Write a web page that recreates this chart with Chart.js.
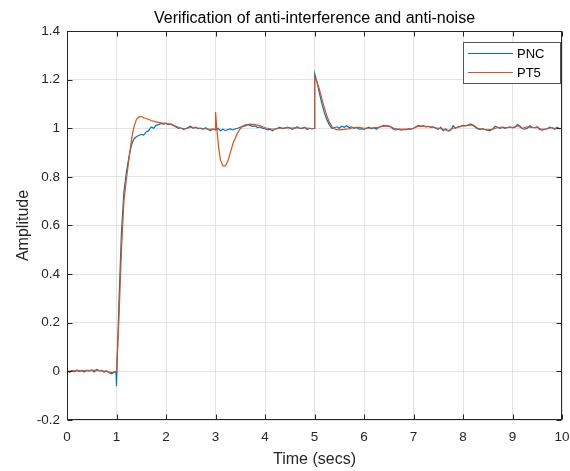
<!DOCTYPE html>
<html><head><meta charset="utf-8">
<script src="https://cdn.jsdelivr.net/npm/chart.js@4/dist/chart.umd.min.js"></script>
<style>html,body{margin:0;padding:0;background:#fff}canvas{display:block}</style>
</head><body>
<canvas id="c" width="570" height="471"></canvas>
<script>
const chartTitle = 'Verification of anti-interference and anti-noise';
const xLabel = 'Time (secs)';
const yLabel = 'Amplitude';
const xTicks = [0,1,2,3,4,5,6,7,8,9,10];
const yTicks = [-0.2,0,0.2,0.4,0.6,0.8,1,1.2,1.4];
const seriesNames = ['PNC','PT5'];

const pncTime = [0,0.05,0.1,0.15,0.2,0.25,0.3,0.35,0.4,0.45,0.5,0.55,0.6,0.65,0.7,0.75,0.8,0.85,0.9,0.95,0.99,1,
1.05,1.1,1.15,1.2,1.25,1.3,1.35,1.4,1.45,1.5,1.55,1.6,1.65,1.7,1.75,1.8,1.85,1.9,1.95,2,
2.05,2.1,2.15,2.2,2.25,2.3,2.35,2.4,2.45,2.5,2.55,2.6,2.65,2.7,2.75,2.8,2.85,2.9,2.95,3,
3.05,3.1,3.15,3.2,3.25,3.3,3.35,3.4,3.45,3.5,3.55,3.6,3.65,3.7,3.75,3.8,3.85,3.9,3.95,4,
4.05,4.1,4.15,4.2,4.25,4.3,4.35,4.4,4.45,4.5,4.55,4.6,4.65,4.7,4.75,4.8,4.85,4.9,4.95,5,
5.005,
5.05,5.1,5.15,5.2,5.25,5.3,5.35,5.4,5.45,5.5,5.55,5.6,5.65,5.7,5.75,5.8,5.85,5.9,5.95,6,
6.05,6.1,6.15,6.2,6.25,6.3,6.35,6.4,6.45,6.5,6.55,6.6,6.65,6.7,6.75,6.8,6.85,6.9,6.95,7,
7.05,7.1,7.15,7.2,7.25,7.3,7.35,7.4,7.45,7.5,7.55,7.6,7.65,7.7,7.75,7.8,7.85,7.9,7.95,8,
8.05,8.1,8.15,8.2,8.25,8.3,8.35,8.4,8.45,8.5,8.55,8.6,8.65,8.7,8.75,8.8,8.85,8.9,8.95,9,
9.05,9.1,9.15,9.2,9.25,9.3,9.35,9.4,9.45,9.5,9.55,9.6,9.65,9.7,9.75,9.8,9.85,9.9,9.95,10];

const pncValues = [0.002,-0.004,0.003,-0.002,0.006,0.000,0.004,-0.003,0.005,0.001,0.006,-0.002,0.008,0.002,0.004,-0.004,0.003,-0.006,-0.010,-0.004,-0.002,-0.060,
0.29,0.57,0.74,0.82,0.88,0.93,0.955,0.965,0.97,0.975,0.972,0.985,0.99,1.005,1.0,1.012,1.015,1.02,1.017,1.02,
1.015,1.018,1.012,1.005,1.0,1.002,0.995,0.998,1.004,1.008,1.0,1.004,0.998,1.0,0.996,1.002,0.995,0.99,0.997,0.993,
1.0,0.99,0.996,0.99,0.995,0.997,0.993,0.998,1.0,1.004,1.008,1.01,1.015,1.012,1.008,1.01,1.003,1.005,1.0,0.998,
0.993,0.996,0.99,0.997,1.0,1.004,0.998,1.0,1.005,1.002,0.996,1.0,1.006,1.0,0.998,1.004,0.995,1.0,0.997,1.0,
1.224,
1.19,1.145,1.1,1.063,1.035,1.014,1.0,1.002,1.006,1.0,1.008,1.004,1.01,1.002,1.006,1.0,1.003,0.996,0.998,0.995,
1.0,1.004,0.998,1.002,0.996,1.004,1.008,1.012,1.01,1.008,1.004,0.995,0.993,0.996,0.992,0.995,0.994,0.997,0.996,1.0,
1.006,1.012,1.008,1.01,1.006,1.008,1.004,1.006,1.0,0.996,1.004,0.99,0.998,0.988,0.992,1.01,1.0,1.006,1.008,1.012,
1.01,1.013,1.018,1.012,1.004,0.997,0.995,0.998,0.994,0.992,0.99,0.997,1.008,1.004,1.0,1.005,1.0,1.003,1.006,1.002,
1.004,1.015,1.008,0.998,0.996,1.0,1.01,1.004,1.002,1.006,0.995,0.992,0.995,0.998,1.005,1.002,0.996,1.004,0.998,1.0];

const pt5Time = [0,0.1,0.2,0.3,0.4,0.5,0.6,0.7,0.8,0.9,1,
1.05,1.1,1.15,1.2,1.25,1.3,1.35,1.4,1.45,1.5,1.55,1.6,1.7,1.8,1.9,2,
2.1,2.2,2.3,2.4,2.5,2.6,2.7,2.8,2.9,3,
3.001,3.03,3.07,3.1,3.15,3.2,3.25,3.3,3.35,3.4,3.45,3.5,3.55,3.6,3.7,3.8,3.9,4,
4.1,4.2,4.3,4.4,4.5,4.6,4.7,4.8,4.9,5,
5.001,5.05,5.1,5.15,5.2,5.25,5.3,5.35,5.4,5.45,5.5,5.6,5.7,5.8,5.9,6,
6.1,6.2,6.3,6.4,6.5,6.6,6.7,6.8,6.9,7,
7.1,7.2,7.3,7.4,7.5,7.6,7.7,7.8,7.9,8,
8.1,8.2,8.3,8.4,8.5,8.6,8.7,8.8,8.9,9,
9.1,9.2,9.3,9.4,9.5,9.6,9.7,9.8,9.9,10];

const pt5Values = [0,0.002,0.003,0.002,0.003,0.004,0.004,0.002,0,-0.005,0,
0.22,0.5,0.7,0.79,0.87,0.95,1.005,1.035,1.047,1.048,1.043,1.04,1.032,1.026,1.022,1.02,
1.016,1.008,1.0,0.998,1.004,1.002,1.0,0.998,0.995,0.996,
1.067,0.99,0.91,0.87,0.845,0.845,0.865,0.9,0.935,0.96,0.982,0.998,1.008,1.014,1.017,1.015,1.01,1.002,
0.998,0.996,1.0,1.002,1.0,1.002,1.0,1.003,0.999,1.0,
1.21,1.19,1.16,1.12,1.085,1.05,1.025,1.008,0.998,0.994,0.993,0.995,0.998,1.003,1.004,1.0,
1.0,1.002,1.004,1.009,1.01,1.0,0.996,0.995,0.996,1.0,
1.008,1.009,1.007,1.004,1.0,0.996,0.99,1.0,1.004,1.01,
1.012,1.014,1.0,0.996,0.993,0.996,1.003,1.002,1.003,1.003,
1.01,1.0,1.006,1.004,1.003,0.995,0.998,1.002,0.998,1.0];

const toPoints = (t, v) => t.slice(0, Math.min(t.length, v.length)).map((x, i) => ({x: x, y: v[i]}));

const FONT = '"Liberation Sans", Arial, Helvetica, sans-serif';
const TEXT = '#262626';

const framePlugin = {
  id: 'frame',
  afterDatasetsDraw(chart) {
    const {ctx, chartArea: a, scales} = chart;
    const L = Math.round(a.left) + 0.5, R = Math.round(a.right) - 0.5;
    const T = Math.round(a.top) + 0.5, B = Math.round(a.bottom) - 0.5;
    ctx.save();
    ctx.strokeStyle = TEXT;
    ctx.lineWidth = 1;
    ctx.strokeRect(L, T, R - L, B - T);
    ctx.beginPath();
    xTicks.forEach(v => {
      const px = Math.round(scales.x.getPixelForValue(v)) + 0.5;
      ctx.moveTo(px, B); ctx.lineTo(px, B - 5);
      ctx.moveTo(px, T); ctx.lineTo(px, T + 5);
    });
    yTicks.forEach(v => {
      const py = Math.round(scales.y.getPixelForValue(v)) + 0.5;
      ctx.moveTo(L, py); ctx.lineTo(L + 5, py);
      ctx.moveTo(R, py); ctx.lineTo(R - 5, py);
    });
    ctx.stroke();
    ctx.restore();
  },
  afterDraw(chart) {
    const {ctx, chartArea: a} = chart;
    ctx.save();
    ctx.fillStyle = '#000';
    ctx.font = '16px ' + FONT;
    ctx.textAlign = 'center';
    ctx.textBaseline = 'alphabetic';
    ctx.fillText(chartTitle, (a.left + a.right) / 2, 23);
    const bx = 463.5, by = 42.5, bw = 97, bh = 41;
    ctx.fillStyle = '#fff';
    ctx.fillRect(bx, by, bw, bh);
    ctx.strokeStyle = '#555';
    ctx.lineWidth = 1;
    ctx.strokeRect(bx, by, bw, bh);
    ctx.font = '13px ' + FONT;
    ctx.textAlign = 'left';
    ctx.textBaseline = 'middle';
    chart.data.datasets.forEach((ds, i) => {
      const y = 53.5 + i * 19;
      ctx.strokeStyle = ds.borderColor;
      ctx.lineWidth = 1.2;
      ctx.beginPath();
      ctx.moveTo(468, y); ctx.lineTo(513, y);
      ctx.stroke();
      ctx.fillStyle = '#000';
      ctx.fillText(ds.label, 517, y + 0.5);
    });
    ctx.restore();
  }
};

new Chart(document.getElementById('c'), {
  type: 'line',
  data: {
    datasets: [
      {label: seriesNames[0], data: toPoints(pncTime, pncValues), borderColor: '#0072BD', borderWidth: 1.2, pointRadius: 0, tension: 0, fill: false, order: 1},
      {label: seriesNames[1], data: toPoints(pt5Time, pt5Values), borderColor: '#D95319', borderWidth: 1.2, pointRadius: 0, tension: 0, fill: false, order: 0}
    ]
  },
  options: {
    responsive: false,
    animation: false,
    layout: {padding: {top: 31, right: 8, left: 0, bottom: 0}},
    plugins: {legend: {display: false}, title: {display: false}, tooltip: {enabled: false}},
    scales: {
      x: {
        type: 'linear', min: 0, max: 10,
        afterFit: s => { s.height = 51; s.paddingLeft = 0; s.paddingRight = 0; },
        afterBuildTicks: s => { s.ticks = xTicks.map(v => ({value: v})); },
        ticks: {color: TEXT, font: {family: FONT, size: 13.5}, padding: 9, maxRotation: 0, callback: v => String(v)},
        grid: {color: '#e3e3e3', drawTicks: false},
        border: {display: false},
        title: {display: true, text: xLabel, color: TEXT, font: {family: FONT, size: 16}, padding: {top: 0, bottom: 2}}
      },
      y: {
        type: 'linear', min: -0.2, max: 1.4,
        afterFit: s => { s.width = 67; s.paddingTop = 0; s.paddingBottom = 0; },
        afterBuildTicks: s => { s.ticks = yTicks.map(v => ({value: v})); },
        ticks: {color: TEXT, font: {family: FONT, size: 13.5}, padding: 7, callback: v => String(Number(v.toFixed(1)))},
        grid: {color: '#e3e3e3', drawTicks: false},
        border: {display: false},
        title: {display: true, text: yLabel, color: TEXT, font: {family: FONT, size: 16}, padding: {top: 14, bottom: 0}}
      }
    }
  },
  plugins: [framePlugin]
});
</script>
</body></html>
